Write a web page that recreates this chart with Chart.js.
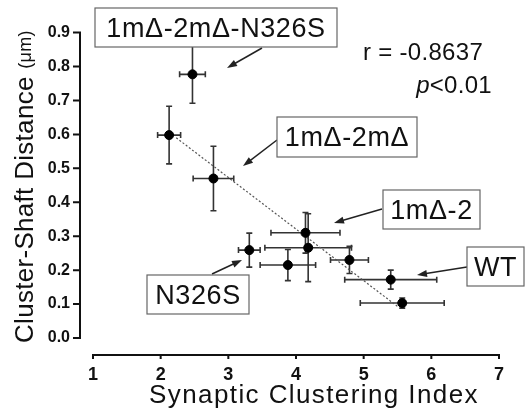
<!DOCTYPE html>
<html>
<head>
<meta charset="utf-8">
<script src="https://cdn.jsdelivr.net/npm/chart.js@4/dist/chart.umd.min.js"></script>
<style>
  body { margin: 0; background: #fff; }
  canvas { display: block; }
</style>
</head>
<body>
<canvas id="chart" width="530" height="411"></canvas>
<script>
// values
const clusterIndex = [2.47, 2.125, 2.78, 3.31, 4.14, 4.18, 3.88, 4.79, 5.40, 5.57]
const shaftDistance = [0.777, 0.598, 0.47, 0.259, 0.31, 0.266, 0.215, 0.23, 0.172, 0.103]
const indexErr = [0.19, 0.17, 0.30, 0.16, 0.51, 0.64, 0.41, 0.28, 0.68, 0.62]
const distanceErr = [0.085, 0.085, 0.095, 0.05, 0.06, 0.10, 0.046, 0.04, 0.028, 0.015]

const fitX = [2.23, 5.52]
const fitY = [0.59, 0.09]

const xTicks = [1, 2, 3, 4, 5, 6, 7]
const yTicks = [0, 0.1, 0.2, 0.3, 0.4, 0.5, 0.6, 0.7, 0.8, 0.9]

const labels = ["1mΔ-2mΔ-N326S", "1mΔ-2mΔ", "1mΔ-2", "WT", "N326S"]
const stats = ["r = -0.8637", "p", "<0.01"]

const FONT = "'Liberation Sans', Arial, sans-serif"

// boxes + arrows (pixels)
const boxes = [
  { x1: 95, y1: 8, x2: 337, y2: 47 },
  { x1: 277, y1: 117, x2: 417, y2: 157 },
  { x1: 383, y1: 190, x2: 480, y2: 229 },
  { x1: 467, y1: 247, x2: 524, y2: 286 },
  { x1: 147, y1: 275, x2: 249, y2: 314 }
]
const arrows = [
  [262, 48, 227, 68],
  [277, 140, 243, 166],
  [382, 209, 334, 223],
  [467, 267, 417, 275],
  [212, 274, 242, 260]
]

const errorBars = {
  id: "errorBars",
  beforeDatasetsDraw(chart) {
    const { ctx, scales: { x, y } } = chart
    ctx.save()
    ctx.strokeStyle = "#333"
    ctx.lineWidth = 1.6
    clusterIndex.forEach((v, i) => {
      const px = x.getPixelForValue(v)
      const py = y.getPixelForValue(shaftDistance[i])
      const xl = x.getPixelForValue(v - indexErr[i])
      const xr = x.getPixelForValue(v + indexErr[i])
      const yt = y.getPixelForValue(shaftDistance[i] + distanceErr[i])
      const yb = y.getPixelForValue(shaftDistance[i] - distanceErr[i])
      ctx.beginPath()
      ctx.moveTo(xl, py); ctx.lineTo(xr, py)
      ctx.moveTo(xl, py - 3); ctx.lineTo(xl, py + 3)
      ctx.moveTo(xr, py - 3); ctx.lineTo(xr, py + 3)
      ctx.moveTo(px, yt); ctx.lineTo(px, yb)
      ctx.moveTo(px - 3, yt); ctx.lineTo(px + 3, yt)
      ctx.moveTo(px - 3, yb); ctx.lineTo(px + 3, yb)
      ctx.stroke()
    })
    ctx.restore()
  }
}

const decorations = {
  id: "decorations",
  afterDraw(chart) {
    const { ctx, scales: { x, y } } = chart
    ctx.save()

    // offset axes
    ctx.strokeStyle = "#111"
    ctx.lineWidth = 2
    const axX = x.left - 13
    const axY = y.bottom + 17
    ctx.beginPath()
    ctx.moveTo(axX, y.getPixelForValue(0.9)); ctx.lineTo(axX, y.getPixelForValue(0))
    yTicks.forEach(t => {
      const p = y.getPixelForValue(t)
      ctx.moveTo(axX - 7, p); ctx.lineTo(axX + 1, p)
    })
    ctx.moveTo(x.getPixelForValue(1), axY); ctx.lineTo(x.getPixelForValue(7), axY)
    xTicks.forEach(t => {
      const p = x.getPixelForValue(t)
      ctx.moveTo(p, axY - 1); ctx.lineTo(p, axY + 4)
    })
    ctx.stroke()

    // axis titles
    ctx.fillStyle = "#111"
    ctx.font = "26px " + FONT
    ctx.letterSpacing = "1.4px"
    ctx.textAlign = "center"
    ctx.textBaseline = "alphabetic"
    ctx.fillText("Synaptic Clustering Index", 314, 403)

    ctx.save()
    ctx.translate(33, 343)
    ctx.rotate(-Math.PI / 2)
    ctx.textAlign = "left"
    ctx.font = "26px " + FONT
    ctx.letterSpacing = "0.3px"
    const t1 = "Cluster-Shaft Distance "
    ctx.fillText(t1, 0, 0)
    const w1 = ctx.measureText(t1).width
    ctx.font = "18px " + FONT
    ctx.fillText("(μm)", w1, -2)
    ctx.restore()

    // stats text
    ctx.letterSpacing = "0.3px"
    ctx.font = "24px " + FONT
    ctx.textAlign = "left"
    ctx.fillText(stats[0], 363, 60)
    ctx.textAlign = "right"
    ctx.fillText(stats[2], 492, 93)
    const w2 = ctx.measureText(stats[2]).width
    ctx.font = "italic 24px " + FONT
    ctx.fillText(stats[1], 492 - w2, 93)

    // arrows
    ctx.strokeStyle = "#222"
    ctx.fillStyle = "#222"
    ctx.lineWidth = 1.5
    arrows.forEach(([x0, y0, x1, y1]) => {
      const a = Math.atan2(y1 - y0, x1 - x0)
      ctx.beginPath()
      ctx.moveTo(x0, y0)
      ctx.lineTo(x1 - 6 * Math.cos(a), y1 - 6 * Math.sin(a))
      ctx.stroke()
      ctx.beginPath()
      ctx.moveTo(x1, y1)
      ctx.lineTo(x1 - 10 * Math.cos(a) + 3.5 * Math.sin(a), y1 - 10 * Math.sin(a) - 3.5 * Math.cos(a))
      ctx.lineTo(x1 - 10 * Math.cos(a) - 3.5 * Math.sin(a), y1 - 10 * Math.sin(a) + 3.5 * Math.cos(a))
      ctx.closePath()
      ctx.fill()
    })

    // label boxes
    ctx.font = "27px " + FONT
    ctx.letterSpacing = "0.6px"
    ctx.textAlign = "center"
    ctx.textBaseline = "middle"
    boxes.forEach((b, i) => {
      ctx.fillStyle = "#fff"
      ctx.fillRect(b.x1, b.y1, b.x2 - b.x1, b.y2 - b.y1)
      ctx.strokeStyle = "#666"
      ctx.lineWidth = 1.2
      ctx.strokeRect(b.x1, b.y1, b.x2 - b.x1, b.y2 - b.y1)
      ctx.fillStyle = "#111"
      ctx.fillText(labels[i], (b.x1 + b.x2) / 2, (b.y1 + b.y2) / 2 + 2)
    })

    ctx.restore()
  }
}

new Chart(document.getElementById("chart"), {
  type: "scatter",
  data: {
    datasets: [
      {
        data: clusterIndex.map((v, i) => ({ x: v, y: shaftDistance[i] })),
        pointRadius: 4.5,
        pointBackgroundColor: "#000",
        pointBorderColor: "#000",
        order: 0
      },
      {
        type: "line",
        data: fitX.map((v, i) => ({ x: v, y: fitY[i] })),
        borderColor: "#555",
        borderWidth: 1.2,
        borderDash: [2, 2],
        pointRadius: 0,
        fill: false,
        order: 1
      }
    ]
  },
  options: {
    responsive: false,
    animation: false,
    layout: { padding: { top: 29, right: 5, left: 0, bottom: 0 } },
    plugins: { legend: { display: false }, tooltip: { enabled: false } },
    scales: {
      x: {
        type: "linear",
        min: 1,
        max: 7,
        afterFit: s => { s.height = 73 },
        afterBuildTicks: s => { s.ticks = xTicks.map(v => ({ value: v })) },
        grid: { display: false, drawTicks: false },
        border: { display: false },
        ticks: {
          padding: 26,
          maxRotation: 0,
          color: "#111",
          font: { size: 18, weight: "bold", family: "'Liberation Sans Narrow', " + FONT }
        }
      },
      y: {
        min: 0,
        max: 0.9,
        afterFit: s => { s.width = 93 },
        afterBuildTicks: s => { s.ticks = yTicks.map(v => ({ value: v })) },
        grid: { display: false, drawTicks: false },
        border: { display: false },
        ticks: {
          padding: 23,
          color: "#111",
          callback: v => v.toFixed(1),
          font: { size: 16, weight: "bold", family: FONT }
        }
      }
    }
  },
  plugins: [errorBars, decorations]
})
</script>
</body>
</html>
